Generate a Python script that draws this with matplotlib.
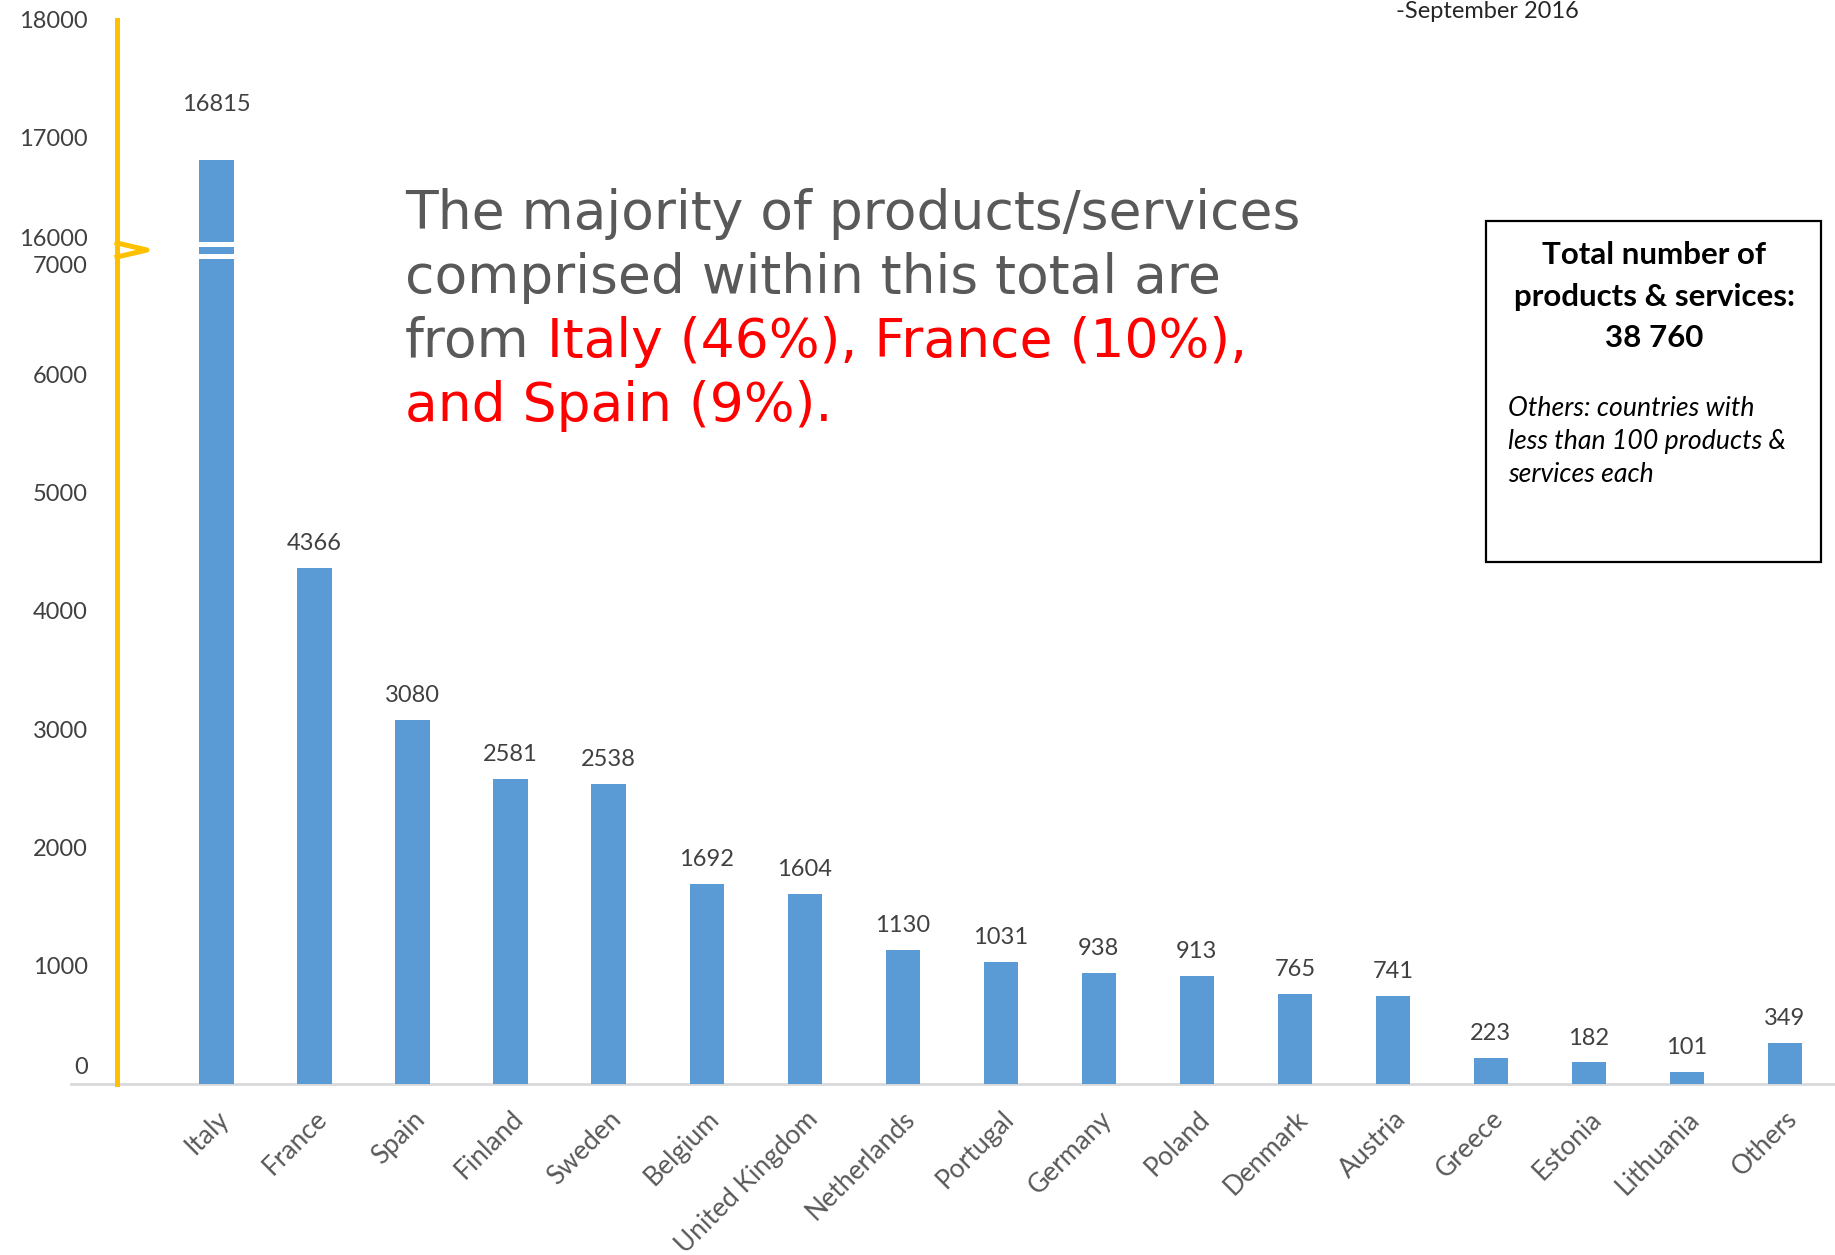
import numpy as np
import matplotlib.pyplot as plt
import matplotlib.transforms as mtransforms
from matplotlib.lines import Line2D
from matplotlib.patches import Rectangle

countries = ['Italy', 'France', 'Spain', 'Finland', 'Sweden', 'Belgium', 'United Kingdom',
             'Netherlands', 'Portugal', 'Germany', 'Poland', 'Denmark', 'Austria', 'Greece',
             'Estonia', 'Lithuania', 'Others']
counts = [16815, 4366, 3080, 2581, 2538, 1692, 1604, 1130, 1031, 938, 913, 765, 741,
          223, 182, 101, 349]
low_ticks = [0, 1000, 2000, 3000, 4000, 5000, 6000, 7000]
high_ticks = [16000, 17000, 18000]

BLUE = '#5B9BD5'
YELLOW = '#FFC000'
GRAY = '#595959'
DARK = '#404040'
RED = '#FF0000'

W, H = 1835, 1255


def fx(p):
    return p / W


def fy(p):
    return 1 - p / H


plt.rcParams['font.family'] = ['Lato', 'DejaVu Sans']

fig = plt.figure(figsize=(W / 100, H / 100), dpi=100)
LEFT, BOTTOM, BREAK, TOP = fx(117), fy(1084), fy(256), fy(20)
ax_lo = fig.add_axes([LEFT, BOTTOM, 1 - LEFT, BREAK - BOTTOM])
ax_hi = fig.add_axes([LEFT, BREAK, 1 - LEFT, TOP - BREAK])

x = np.arange(len(countries))
bars = {}
for ax in (ax_lo, ax_hi):
    bars[ax] = ax.bar(x, counts, width=0.35, color=BLUE, zorder=2)
    ax.set_xlim(-1.015, 16.51)
    for s in ['top', 'right', 'bottom']:
        ax.spines[s].set_visible(False)
    ax.spines['left'].set_color(YELLOW)
    ax.spines['left'].set_linewidth(3.6)
    ax.tick_params(axis='y', length=0, pad=21, labelsize=17, labelcolor=DARK)
ax_lo.set_ylim(0, 7000)
ax_hi.set_ylim(16000, 18000)
ax_lo.set_yticks(low_ticks)
ax_hi.set_yticks(high_ticks)
ax_hi.set_xticks([])
ax_lo.set_xticks(x)
ax_lo.set_xticklabels(countries, rotation=45, ha='right', va='top',
                      rotation_mode='anchor', fontsize=19, color=GRAY)
ax_lo.tick_params(axis='x', length=0, pad=16)

up = mtransforms.ScaledTranslation(0, 4 / 72, fig.dpi_scale_trans)
lo_labels = ax_lo.get_yticklabels()
lo_labels[0].set_va('bottom')
lo_labels[0].set_transform(lo_labels[0].get_transform() + up)
lo_labels[-1].set_va('top')
hi_labels = ax_hi.get_yticklabels()
hi_labels[0].set_va('bottom')
hi_labels[0].set_transform(hi_labels[0].get_transform() + up)

# baseline
ax_lo.plot([-0.027, 1], [0, 0], transform=ax_lo.get_yaxis_transform(),
           color='#D9D9D9', lw=2, clip_on=False, zorder=1)

# value labels
for i, v in enumerate(counts):
    ax = ax_hi if v > 7000 else ax_lo
    off = 32 if v > 7000 else 10
    ax.annotate(f'{v}', (i, v), xytext=(0, off), textcoords='offset points',
                ha='center', va='bottom', fontsize=17, color=DARK)

# axis break marks
fig.add_artist(Line2D([fx(117), fx(147), fx(117)], [fy(243), fy(250), fy(257)],
                      transform=fig.transFigure, color=YELLOW, lw=3.6))
b0 = bars[ax_lo][0]
tr = mtransforms.blended_transform_factory(ax_lo.transData, fig.transFigure)
for yy in (244, 255.5):
    fig.add_artist(Line2D([b0.get_x() - 0.02, b0.get_x() + b0.get_width() + 0.02],
                          [fy(yy), fy(yy)], transform=tr, color='white', lw=3.6))

# headline text
big = dict(fontsize=38.5, family='DejaVu Sans', va='bottom')
fig.text(fx(405), fy(240), 'The majority of products/services', color=GRAY, **big)
fig.text(fx(405), fy(304), 'comprised within this total are', color=GRAY, **big)
t = fig.text(fx(405), fy(368), 'from', color=GRAY, **big)
ax_lo.annotate(' Italy (46%), France (10%),', xy=(1, 0), xycoords=t, ha='left',
               color=RED, annotation_clip=False, **big)
fig.text(fx(405), fy(432), 'and Spain (9%).', color=RED, **big)

# info box
fig.add_artist(Rectangle((fx(1486), fy(562)), fx(335), (562 - 221) / H, fill=False,
                         edgecolor='black', lw=1.6, transform=fig.transFigure))
for txt, yy in [('Total number of', 255), ('products & services:', 297), ('38 760', 338)]:
    fig.text(fx(1654), fy(yy), txt, ha='center', va='center', fontsize=22.5,
             fontweight='bold', color='black')
for txt, yy in [('Others: countries with', 408), ('less than 100 products &', 441),
                ('services each', 475)]:
    fig.text(fx(1508), fy(yy), txt, ha='left', va='center', fontsize=19.2,
             style='italic', color='black')

fig.text(fx(1396), fy(11), '-September 2016', ha='left', va='center', fontsize=17,
         color='#262626')

fig.savefig('out.png', dpi=100)
